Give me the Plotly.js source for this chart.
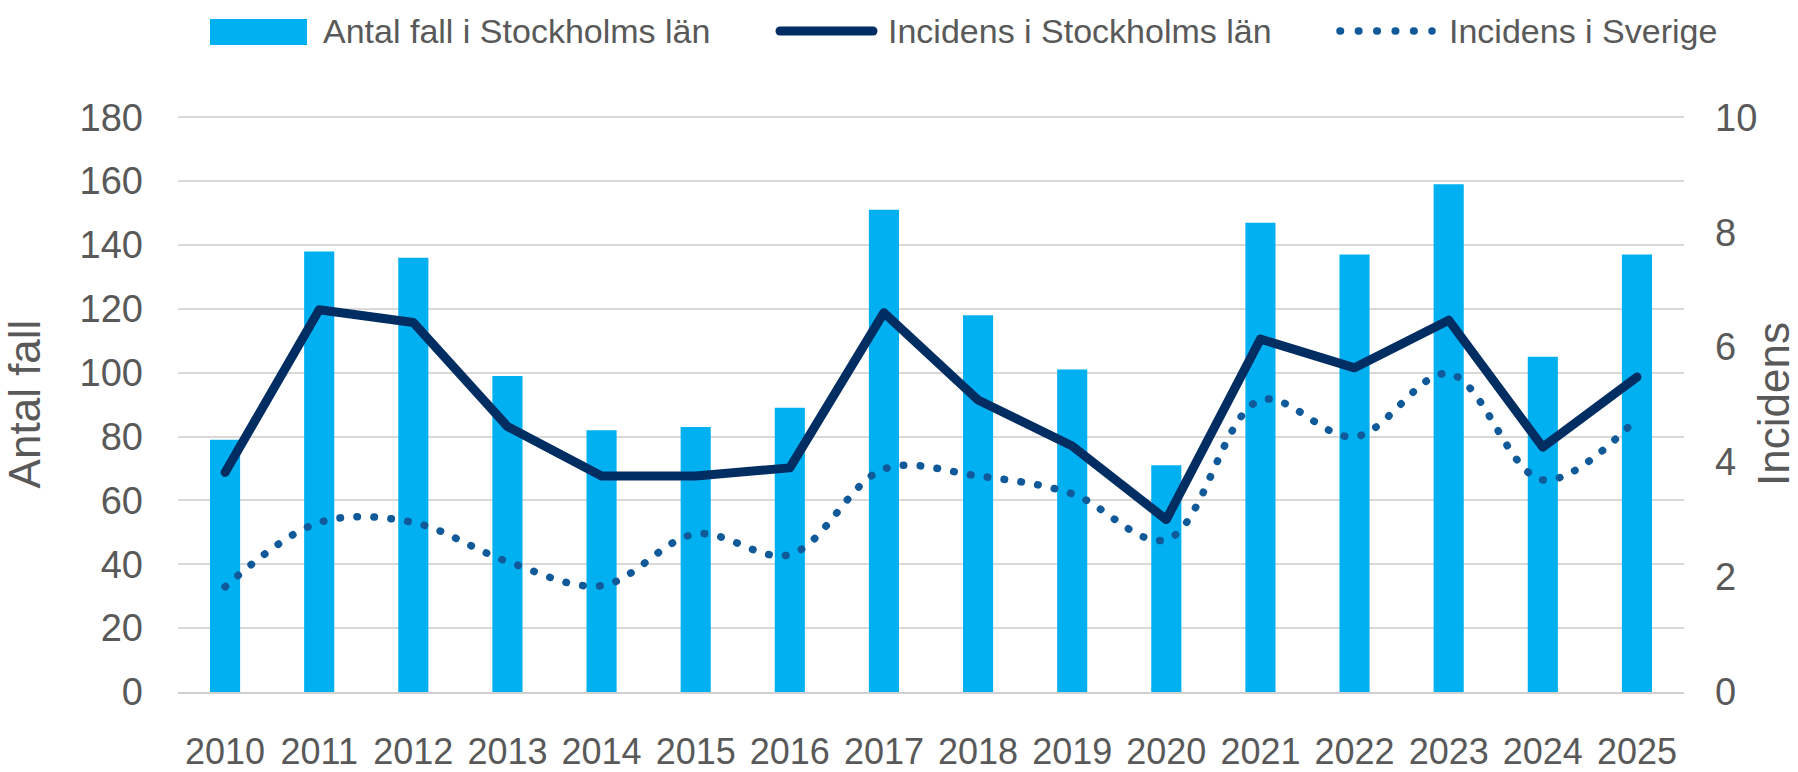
<!DOCTYPE html>
<html>
<head>
<meta charset="utf-8">
<script src="https://cdn.plot.ly/plotly-3.0.1.min.js"></script>
<style>
  html, body { margin: 0; padding: 0; background: #ffffff; }
  #chart { width: 1798px; height: 772px; }
  .scatterlayer .js-line { stroke-linecap: round !important; stroke-linejoin: round !important; }
  .shapelayer path { stroke-linecap: round !important; }
</style>
</head>
<body>
<div id="chart"></div>
<script>
// ---------- data ----------
const years = ["2010","2011","2012","2013","2014","2015","2016","2017","2018","2019","2020","2021","2022","2023","2024","2025"];
const antalFall = [79, 138, 136, 99, 82, 83, 89, 151, 118, 101, 71, 147, 137, 159, 105, 137];
const incidensStockholm = [3.82, 6.65, 6.43, 4.62, 3.76, 3.76, 3.90, 6.60, 5.08, 4.28, 3.00, 6.14, 5.64, 6.47, 4.26, 5.48];
const incidensSverige = [1.83, 2.95, 2.95, 2.27, 1.85, 2.75, 2.39, 3.88, 3.76, 3.45, 2.65, 5.08, 4.44, 5.54, 3.69, 4.76];
const leftTicks = [0, 20, 40, 60, 80, 100, 120, 140, 160, 180];
const rightTicks = [0, 2, 4, 6, 8, 10];
const seriesNames = ["Antal fall i Stockholms län", "Incidens i Stockholms län", "Incidens i Sverige"];
const axisTitles = {left: "Antal fall", right: "Incidens"};

// ---------- style ----------
const W = 1798, H = 772;
const M = {l: 178, r: 114, t: 116, b: 80};
const PW = W - M.l - M.r, PH = H - M.t - M.b;
const barColor = "#00B0F0";
const lineColor = "#002D62";
const dotColor = "#105A9A";
const textColor = "#595959";
const font = "Liberation Sans, Arial, sans-serif";
const leftMax = 180.4, rightMax = leftMax / 18;

const px2x = p => (p - M.l) / PW;
const px2y = p => (H - M.b - p) / PH;

const traces = [
  {
    type: "bar", name: seriesNames[0], x: years, y: antalFall,
    marker: {color: barColor}, yaxis: "y"
  },
  {
    type: "scatter", mode: "lines", name: seriesNames[1], x: years, y: incidensStockholm,
    line: {color: lineColor, width: 9}, yaxis: "y2"
  },
  {
    type: "scatter", mode: "lines", name: seriesNames[2], x: years, y: incidensSverige,
    line: {color: dotColor, width: 7.5, dash: "0.5px,16.5px", shape: "spline", smoothing: 1}, yaxis: "y2"
  }
];

// manual legend (swatches as paper shapes, labels as annotations)
const legY = 31;
const shapes = [
  {type: "rect", xref: "paper", yref: "paper", x0: px2x(210), x1: px2x(307), y0: px2y(19), y1: px2y(45),
   fillcolor: barColor, line: {width: 0}},
  {type: "line", xref: "paper", yref: "paper", x0: px2x(780), x1: px2x(873), y0: px2y(legY), y1: px2y(legY),
   line: {color: lineColor, width: 9}},
  {type: "line", xref: "paper", yref: "paper", x0: px2x(1340), x1: px2x(1432), y0: px2y(legY), y1: px2y(legY),
   line: {color: dotColor, width: 7.5, dash: "0.5px,17.9px"}}
];
const legX = [321, 886, 1447];
const annotations = seriesNames.map((s, i) => ({
  xref: "paper", yref: "paper", x: px2x(legX[i]), y: px2y(legY), xanchor: "left", yanchor: "middle",
  text: s, showarrow: false, font: {family: font, size: 34, color: textColor}
}));

const layout = {
  width: W, height: H,
  margin: M,
  paper_bgcolor: "#ffffff", plot_bgcolor: "#ffffff",
  showlegend: false,
  bargap: 0.68,
  xaxis: {
    type: "category", tickvals: years, ticktext: years, tickangle: 0,
    showgrid: false, zeroline: false, showline: true, linecolor: "#d0d0d0", linewidth: 2,
    ticks: "", ticklabelstandoff: 27,
    tickfont: {family: font, size: 36, color: textColor},
    fixedrange: true
  },
  yaxis: {
    range: [0, leftMax], tickvals: leftTicks, ticktext: leftTicks.map(String),
    showgrid: true, gridcolor: "#d9d9d9", gridwidth: 2, zeroline: false, showline: false,
    ticks: "", ticklabelstandoff: 34,
    tickfont: {family: font, size: 38, color: textColor},
    title: {text: axisTitles.left, font: {family: font, size: 44, color: textColor}, standoff: 28},
    fixedrange: true
  },
  yaxis2: {
    overlaying: "y", side: "right", range: [0, rightMax], tickvals: rightTicks, ticktext: rightTicks.map(String),
    showgrid: false, zeroline: false, showline: false,
    ticks: "", ticklabelstandoff: 30,
    tickfont: {family: font, size: 38, color: textColor},
    title: {text: axisTitles.right, font: {family: font, size: 44, color: textColor}, standoff: 16},
    fixedrange: true
  },
  shapes: shapes,
  annotations: annotations
};

Plotly.newPlot("chart", traces, layout, {displayModeBar: false, staticPlot: true});
</script>
</body>
</html>
